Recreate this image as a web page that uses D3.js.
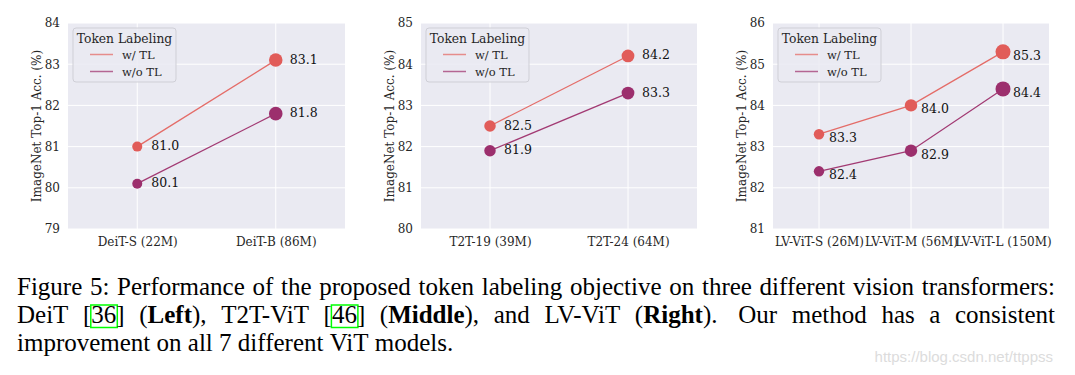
<!DOCTYPE html>
<html><head><meta charset="utf-8">
<script src="https://cdn.jsdelivr.net/npm/d3@7"></script>
<style>body{margin:0;background:#fff}svg{display:block}</style>
</head><body>
<svg id="chart" width="1075" height="375"></svg>
<script>
// ---- data ----
const seriesNames = ["w/ TL", "w/o TL"];
const deitCats = ["DeiT-S (22M)", "DeiT-B (86M)"];
const deitParams = [22, 86];
const deitWithTL = [81.0, 83.1];
const deitWithoutTL = [80.1, 81.8];
const deitTicks = [79, 80, 81, 82, 83, 84];

const t2tCats = ["T2T-19 (39M)", "T2T-24 (64M)"];
const t2tParams = [39, 64];
const t2tWithTL = [82.5, 84.2];
const t2tWithoutTL = [81.9, 83.3];
const t2tTicks = [80, 81, 82, 83, 84, 85];

const lvCats = ["LV-ViT-S (26M)", "LV-ViT-M (56M)", "LV-ViT-L (150M)"];
const lvParams = [26, 56, 150];
const lvWithTL = [83.3, 84.0, 85.3];
const lvWithoutTL = [82.4, 82.9, 84.4];
const lvTicks = [81, 82, 83, 84, 85, 86];

const yTitle = "ImageNet Top-1 Acc. (%)";
const legendTitle = "Token Labeling";

// ---- style ----
const markerColors = ["#e15c59", "#9c2f6d"];
const lineColors = ["#e46c68", "#a23a73"];
const bg = "#eaeaf2";
const serif = "'DejaVu Serif', serif";
const textCol = "#262626";

const svg = d3.select("#chart");
svg.append("rect").attr("width",1075).attr("height",375).attr("fill","#fff");

const rScale = d3.scaleLog().domain([22,150]).range([5,7.5]);

const panels = [
  {cats: deitCats, params: deitParams, s: [deitWithTL, deitWithoutTL], ticks: deitTicks, x0: 68, x1: 345, lab: [14, 0]},
  {cats: t2tCats, params: t2tParams, s: [t2tWithTL, t2tWithoutTL], ticks: t2tTicks, x0: 421, x1: 697, lab: [14, 0]},
  {cats: lvCats, params: lvParams, s: [lvWithTL, lvWithoutTL], ticks: lvTicks, x0: 773, x1: 1049, lab: [10, 4.5]}
];
const yTop = 23, yBot = 229;

panels.forEach(p => {
  const g = svg.append("g");
  const x = d3.scalePoint().domain(p.cats).range([p.x0, p.x1]).padding(0.5);
  const y = d3.scaleLinear().domain(d3.extent(p.ticks)).range([yBot, yTop]);
  g.append("rect").attr("x", p.x0).attr("y", yTop).attr("width", p.x1 - p.x0).attr("height", yBot - yTop).attr("fill", bg);
  // grid
  g.selectAll(".hg").data(p.ticks).join("line")
    .attr("x1", p.x0).attr("x2", p.x1).attr("y1", d => y(d)).attr("y2", d => y(d))
    .attr("stroke", "#fff").attr("stroke-width", 1);
  g.selectAll(".vg").data(p.cats).join("line")
    .attr("x1", d => x(d)).attr("x2", d => x(d)).attr("y1", yTop).attr("y2", yBot)
    .attr("stroke", "#fff").attr("stroke-width", 1);
  // axes
  const ya = g.append("g").attr("transform", `translate(${p.x0},0)`)
    .call(d3.axisLeft(y).tickValues(p.ticks).tickFormat(d3.format("d")).tickSize(0).tickPadding(8));
  ya.select(".domain").remove();
  ya.selectAll("text").attr("font-family", serif).attr("font-size", 12).attr("fill", textCol);
  const xa = g.append("g").attr("transform", `translate(0,${yBot})`)
    .call(d3.axisBottom(x).tickSize(0).tickPadding(8));
  xa.select(".domain").remove();
  xa.selectAll("text").attr("font-family", serif).attr("font-size", 12).attr("fill", textCol);
  g.append("text").attr("transform", `translate(${p.x0 - 31},${(yTop + yBot) / 2}) rotate(-90)`)
    .attr("text-anchor", "middle").attr("dominant-baseline", "middle")
    .attr("font-family", serif).attr("font-size", 12).attr("fill", textCol).text(yTitle);
  // lines
  p.s.forEach((vals, si) => {
    const pts = p.cats.map((c, i) => ({c, v: vals[i], r: rScale(p.params[i])}));
    g.append("path").datum(pts)
      .attr("d", d3.line().x(d => x(d.c)).y(d => y(d.v)))
      .attr("fill", "none").attr("stroke", lineColors[si]).attr("stroke-width", 1.3);
    g.selectAll(null).data(pts).join("circle")
      .attr("cx", d => x(d.c)).attr("cy", d => y(d.v)).attr("r", d => d.r)
      .attr("fill", markerColors[si]);
    g.selectAll(null).data(pts).join("text")
      .attr("x", d => x(d.c) + p.lab[0]).attr("y", d => y(d.v) + p.lab[1])
      .attr("dominant-baseline", "middle")
      .attr("font-family", serif).attr("font-size", 12.5).attr("fill", "#111")
      .text(d => d.v.toFixed(1));
  });
  // legend
  const bx = p.x0 + 5, by = 28;
  const lg = g.append("g").attr("transform", `translate(${bx},${by})`);
  lg.append("rect").attr("width", 103).attr("height", 54).attr("rx", 3)
    .attr("fill", bg).attr("fill-opacity", 0.85).attr("stroke", "#cfcfd6").attr("stroke-width", 1);
  lg.append("text").attr("x", 51.5).attr("y", 14.5).attr("text-anchor", "middle")
    .attr("font-family", serif).attr("font-size", 12.3).attr("fill", textCol).text(legendTitle);
  seriesNames.forEach((n, i) => {
    lg.append("line").attr("x1", 17).attr("x2", 40).attr("y1", 26.5 + i * 17).attr("y2", 26.5 + i * 17)
      .attr("stroke", lineColors[i]).attr("stroke-width", 1.5).attr("stroke-opacity", 0.75);
    lg.append("text").attr("x", 49).attr("y", 30.5 + i * 17)
      .attr("font-family", serif).attr("font-size", 11.5).attr("fill", textCol).text(n);
  });
});

// ---- caption ----
const capFont = "'Liberation Serif', 'Times New Roman', serif";
const capSize = 25;
const capLines = [
  {justify: true, y: 295, toks: [["Figure 5: Performance of the proposed token labeling objective on three different vision transformers:"]]},
  {justify: true, y: 323, toks: [
    ["DeiT"], [" ["], ["36", 0, 1], ["] ("], ["Left", 1], ["), T2T-ViT ["], ["46", 0, 1], ["] ("], ["Middle", 1], ["), and LV-ViT ("], ["Right", 1], [").  Our method has a consistent"]
  ]},
  {justify: false, y: 351, toks: [["improvement on all 7 different ViT models."]]}
];
const capX0 = 17, capX1 = 1055;
capLines.forEach(line => {
  const segs = [];
  line.toks.forEach(([t, bold, box]) => {
    const parts = t.split(/( +)/);
    parts.forEach(pt => { if (pt !== "") segs.push({t: pt, bold: !!bold, box: !!box, space: /^ +$/.test(pt)}); });
  });
  const tmp = svg.append("text").attr("font-family", capFont).attr("font-size", capSize);
  segs.forEach(s => {
    tmp.attr("font-weight", s.bold ? "bold" : "normal").text(s.space ? "\u00a0".repeat(s.t.length) : s.t);
    s.w = tmp.node().getComputedTextLength();
  });
  tmp.remove();
  const total = d3.sum(segs, s => s.w);
  const nsp = segs.filter(s => s.space).length;
  const extra = line.justify && nsp ? (capX1 - capX0 - total) / nsp : 0;
  let cx = capX0;
  segs.forEach(s => {
    if (s.space) { cx += s.w + extra; return; }
    svg.append("text").attr("x", cx).attr("y", line.y).attr("font-family", capFont).attr("font-size", capSize)
      .attr("font-weight", s.bold ? "bold" : "normal").attr("fill", "#000").text(s.t);
    if (s.box) {
      svg.append("rect").attr("x", cx - 0.5).attr("y", line.y - 18).attr("width", s.w + 1.5).attr("height", 22.5)
        .attr("fill", "none").attr("stroke", "#00ff00").attr("stroke-width", 1.5);
    }
    cx += s.w;
  });
});

// watermark
svg.append("text").attr("x", 1053).attr("y", 362).attr("text-anchor", "end")
  .attr("font-family", "'Liberation Sans', Arial, sans-serif").attr("font-size", 15)
  .attr("fill", "#dcdcdc").text("https://blog.csdn.net/ttppss");
</script>
</body></html>
